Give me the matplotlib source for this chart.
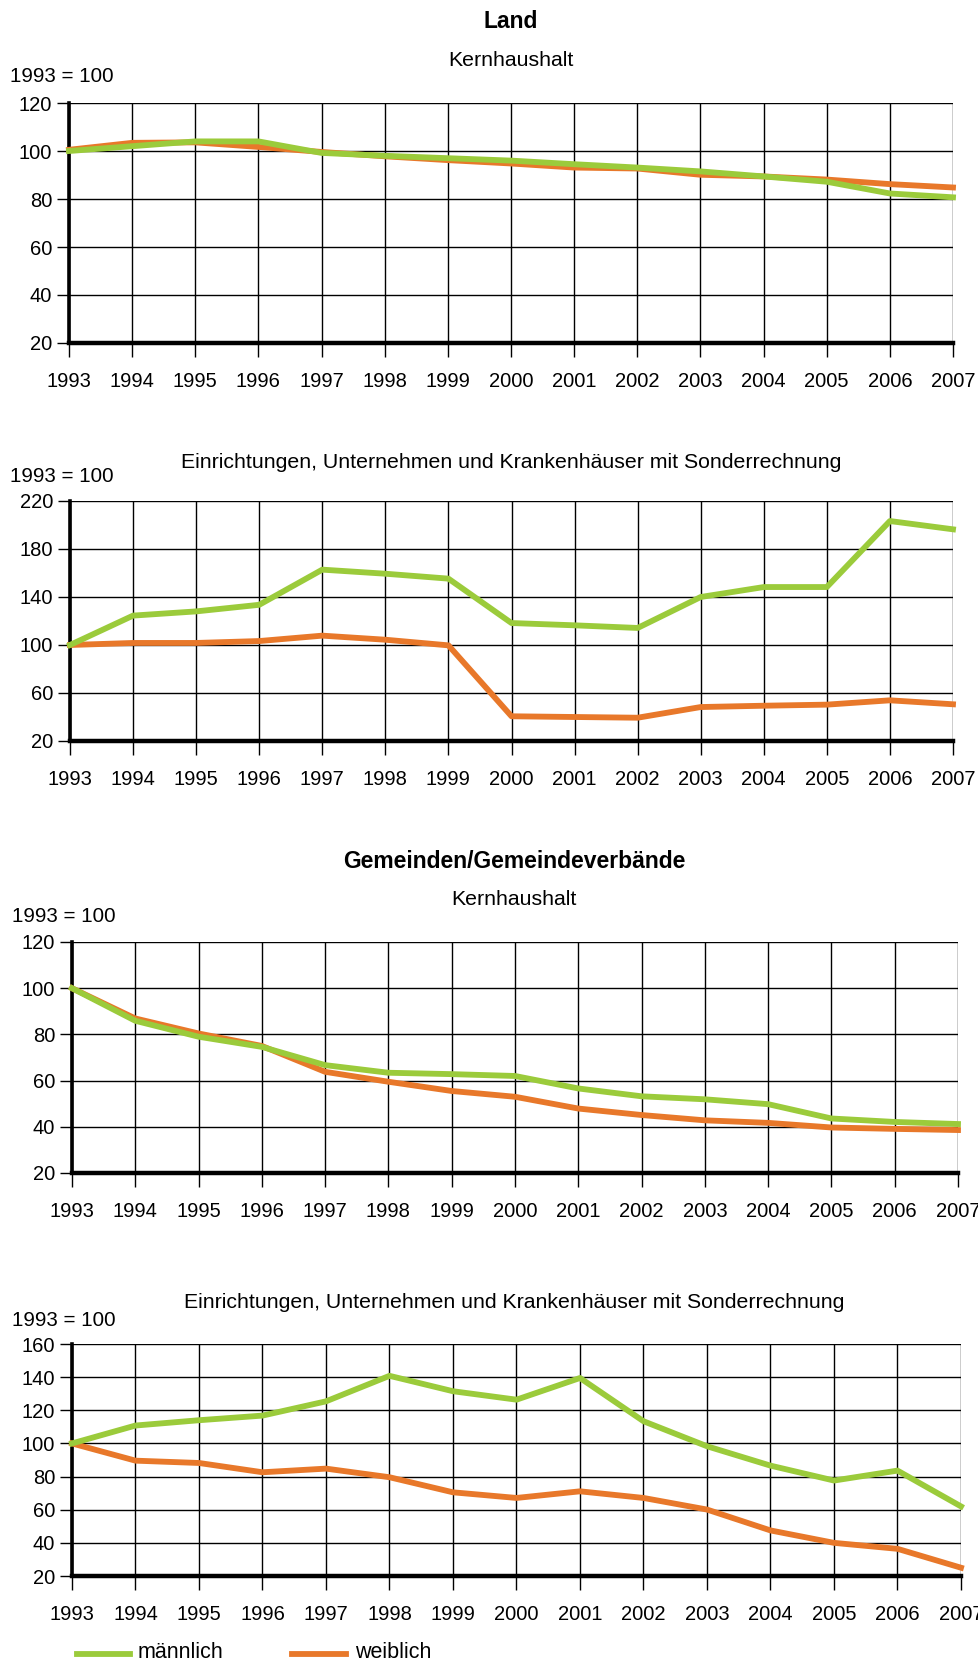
import matplotlib
matplotlib.use("Agg")
import matplotlib.pyplot as plt
from matplotlib.lines import Line2D

plt.rcParams['font.family'] = ['Liberation Sans', 'DejaVu Sans']

years = list(range(1993, 2008))

land_kern_m = [100, 102, 104, 104, 99.2, 98, 97, 96, 94.5, 93.1, 91.5, 89.4, 87.2, 82.3, 80.7]
land_kern_w = [100.5, 103.4, 103.6, 101.7, 99.6, 97.8, 96.2, 94.8, 93.1, 92.7, 90.1, 89.4, 88.1, 86.2, 84.8]

land_einr_m = [100, 124.5, 128, 133.5, 162.8, 159.4, 155.3, 118.3, 116.4, 114.2, 140, 148.3, 148.3, 203.3, 196.4]
land_einr_w = [100, 101.7, 101.7, 103.3, 107.8, 104.4, 99.7, 40.6, 40, 39.4, 48.3, 49.4, 50.3, 53.9, 50.6]

gem_kern_m = [100, 85.9, 79, 74.6, 66.7, 63.4, 62.8, 62, 56.6, 53.2, 51.9, 49.8, 43.6, 42.1, 41.2]
gem_kern_w = [100, 86.9, 80.4, 75, 63.8, 59.5, 55.5, 53, 47.9, 45.1, 42.8, 41.7, 39.7, 39.1, 38.6]

gem_einr_m = [100, 110.8, 114, 116.8, 125.4, 140.8, 131.5, 126.4, 139.5, 113.4, 98.3, 86.6, 77.6, 83.6, 62]
gem_einr_w = [100, 89.6, 88.2, 82.6, 84.8, 79.6, 70.5, 67.1, 71.1, 67.1, 60.1, 47.5, 40, 36.4, 25]

green = '#9BCB3B'
orange = '#E8782A'

W, H = 979, 1664
fig = plt.figure(figsize=(W / 100, H / 100), dpi=100)

TICK_FS = 14.5
SUB_FS = 15.3
HEAD_FS = 16.5
UNIT_FS = 14.8
LEG_FS = 15.5

def fx(x):
    return x / W

def fy(y):
    return 1 - y / H

def panel(x0, x1, y0, y1, m, w, ylim, yticks):
    ax = fig.add_axes([fx(x0), fy(y1), fx(x1) - fx(x0), (y1 - y0) / H])
    ax.set_xlim(1993, 2007)
    ax.set_ylim(*ylim)
    ax.set_xticks(years)
    ax.set_yticks(yticks)
    ax.grid(True, color='black', linewidth=1.0)
    ax.set_axisbelow(True)
    for s in ['top', 'right']:
        ax.spines[s].set_visible(False)
    ax.spines['left'].set_linewidth(2.6)
    ax.spines['bottom'].set_linewidth(3.2)
    ax.tick_params(axis='y', length=9, width=1.0, pad=3, labelsize=TICK_FS)
    ax.tick_params(axis='x', length=10, width=1.0, pad=11, labelsize=TICK_FS)
    ax.plot(years, w, color=orange, linewidth=4.2, solid_joinstyle='round', clip_on=False, zorder=3)
    ax.plot(years, m, color=green, linewidth=4.2, solid_joinstyle='round', clip_on=False, zorder=4)
    return ax

def txt(x, y, s, **kw):
    fig.text(fx(x), fy(y), s, va='center', **kw)

# Panel 1
txt(511, 21, 'Land', ha='center', fontsize=HEAD_FS, fontweight='bold')
txt(511, 60, 'Kernhaushalt', ha='center', fontsize=SUB_FS)
txt(10, 76, '1993 = 100', ha='left', fontsize=UNIT_FS)
panel(69, 953, 103, 343, land_kern_m, land_kern_w, (20, 120), [20, 40, 60, 80, 100, 120])

# Panel 2
txt(511, 462, 'Einrichtungen, Unternehmen und Krankenhäuser mit Sonderrechnung', ha='center', fontsize=SUB_FS)
txt(10, 477, '1993 = 100', ha='left', fontsize=UNIT_FS)
panel(70, 953, 501, 741, land_einr_m, land_einr_w, (20, 220), [20, 60, 100, 140, 180, 220])

# Panel 3
txt(514, 861, 'Gemeinden/Gemeindeverbände', ha='center', fontsize=HEAD_FS, fontweight='bold')
txt(514, 899, 'Kernhaushalt', ha='center', fontsize=SUB_FS)
txt(12, 917, '1993 = 100', ha='left', fontsize=UNIT_FS)
panel(72, 958, 942, 1173, gem_kern_m, gem_kern_w, (20, 120), [20, 40, 60, 80, 100, 120])

# Panel 4
txt(514, 1303, 'Einrichtungen, Unternehmen und Krankenhäuser mit Sonderrechnung', ha='center', fontsize=SUB_FS)
txt(12, 1320, '1993 = 100', ha='left', fontsize=UNIT_FS)
panel(72, 961, 1344, 1576, gem_einr_m, gem_einr_w, (20, 160), [20, 40, 60, 80, 100, 120, 140, 160])

# Legend
fig.add_artist(Line2D([fx(77), fx(130)], [fy(1654), fy(1654)], color=green, linewidth=4.2))
txt(138, 1652, 'männlich', ha='left', fontsize=LEG_FS)
fig.add_artist(Line2D([fx(292), fx(346)], [fy(1654), fy(1654)], color=orange, linewidth=4.2))
txt(355, 1652, 'weiblich', ha='left', fontsize=LEG_FS)

fig.savefig('out.png', dpi=100)
